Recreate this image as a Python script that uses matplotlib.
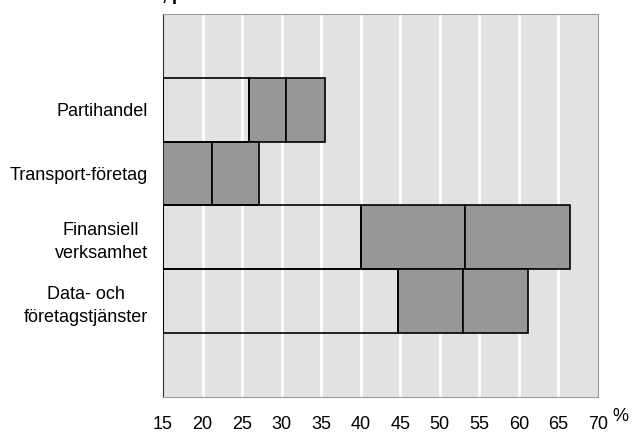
import matplotlib.pyplot as plt

plt.rcParams["font.family"] = ["Liberation Sans", "DejaVu Sans"]

# Data (percent)
categories = ["Partihandel", "Transport-företag", "Finansiell\nverksamhet", "Data- och\nföretagstjänster"]
light_end = [25.9, 15.0, 40.0, 44.7]
dark_mid = [30.6, 21.2, 53.2, 52.9]
dark_end = [35.5, 27.1, 66.5, 61.2]
bar_pos = [1.5, 2.5, 3.5, 4.5]
xticks = [15, 20, 25, 30, 35, 40, 45, 50, 55, 60, 65, 70]
x0 = 15

fig = plt.figure(figsize=(6.32, 4.34), dpi=100)
ax = fig.add_axes([0.258, 0.0853, 0.688, 0.8824])
ax.set_facecolor("#e2e2e2")
ax.set_xlim(15, 70)
ax.set_ylim(6, 0)

for x in xticks[1:-1]:
    ax.axvline(x, color="white", lw=2, zorder=1)

for y, le, dm, de in zip(bar_pos, light_end, dark_mid, dark_end):
    if le > x0:
        ax.barh(y, le - x0, left=x0, height=1, facecolor="none",
                edgecolor="black", lw=1.2, zorder=3)
    ax.barh(y, dm - le, left=le, height=1, color="#979797",
            edgecolor="black", lw=1.2, zorder=2)
    ax.barh(y, de - dm, left=dm, height=1, color="#979797",
            edgecolor="black", lw=1.2, zorder=2)

ax.set_yticks(bar_pos)
ax.set_yticklabels(categories, fontsize=13, multialignment="center", linespacing=1.45)
ax.set_xticks(xticks)
ax.set_xticklabels([str(v) for v in xticks], fontsize=13)
ax.tick_params(length=0)
ax.tick_params(axis="x", pad=14)
ax.tick_params(axis="y", pad=11)

for s in ["top", "right", "bottom"]:
    ax.spines[s].set_color("#9a9a9a")
ax.spines["left"].set_color("#333333")

fig.text(0.981, 0.04, "%", fontsize=13, ha="center", va="center")
fig.text(0.257, 1.0, ", p", fontsize=13, fontweight="bold", va="baseline")

fig.savefig("out.png", dpi=100)
